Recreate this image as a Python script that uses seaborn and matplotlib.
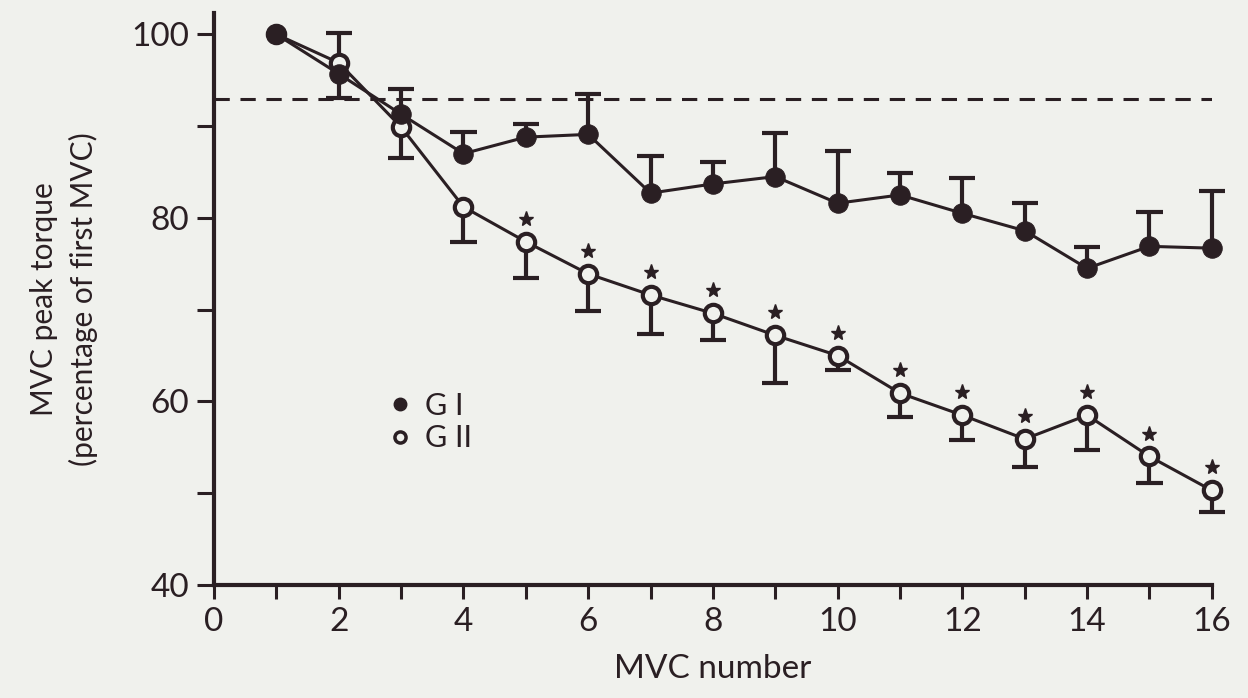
import numpy as np
import pandas as pd
import matplotlib
matplotlib.use("Agg")
import matplotlib.pyplot as plt
from matplotlib.lines import Line2D
from matplotlib.ticker import MultipleLocator
import seaborn as sns

# --- Data ---
mvc = [1, 2, 3, 4, 5, 6, 7, 8, 9, 10, 11, 12, 13, 14, 15, 16]
g1_mean = [100, 95.7, 91.3, 87.0, 88.8, 89.1, 82.7, 83.7, 84.5, 81.6, 82.5, 80.5, 78.6, 74.5, 76.9, 76.7]
g1_err_up = [0, 4.4, 2.7, 2.4, 1.4, 4.4, 4.0, 2.4, 4.7, 5.7, 2.4, 3.8, 3.0, 2.3, 3.7, 6.2]
g2_mean = [100, 96.9, 89.9, 81.2, 77.4, 73.9, 71.6, 69.6, 67.2, 65.0, 60.9, 58.5, 55.9, 58.5, 54.0, 50.3]
g2_err_down = [0, 3.8, 3.4, 3.8, 4.0, 4.0, 4.2, 2.9, 5.2, 1.6, 2.6, 2.7, 3.0, 3.8, 2.9, 2.4]
g2_significant = [False, False, False, False, True, True, True, True, True, True, True, True, True, True, True, True]
reference_level = 93.0

ink = "#2a1f23"
bg = "#f0f1ed"

sns.set_theme(style="ticks")
plt.rcParams["font.family"] = ["Lato", "DejaVu Sans"]

df = pd.DataFrame({
    "MVC": mvc * 2,
    "torque": g1_mean + g2_mean,
    "group": ["G I"] * len(mvc) + ["G II"] * len(mvc),
})

fig = plt.figure(figsize=(12.48, 6.98), dpi=100, facecolor=bg)
ax = fig.add_axes([0.1715, 0.162, 0.7995, 0.819])
ax.set_facecolor(bg)

# --- Reference dashed line ---
ax.axhline(reference_level, color=ink, lw=2.2, ls=(0, (5, 3.5)), zorder=1)

# --- One-sided error bars (G I upward, G II downward) ---
def one_sided(x, y, err, sign):
    x = np.asarray(x, float)
    y = np.asarray(y, float)
    err = np.asarray(err, float)
    keep = err > 0
    x, y, err = x[keep], y[keep], err[keep]
    end = y + sign * err
    ax.vlines(x, y, end, color=ink, lw=3, zorder=2, clip_on=False)
    ax.hlines(end, x - 0.21, x + 0.21, color=ink, lw=3, zorder=2, clip_on=False)

one_sided(mvc, g1_mean, g1_err_up, +1)
one_sided(mvc, g2_mean, g2_err_down, -1)

# --- Lines ---
sns.lineplot(data=df[df["group"] == "G I"], x="MVC", y="torque", ax=ax,
             color=ink, lw=2.2, marker="o", markersize=14,
             markerfacecolor=ink, markeredgecolor=ink, zorder=4, clip_on=False)
sns.lineplot(data=df[df["group"] == "G II"], x="MVC", y="torque", ax=ax,
             color=ink, lw=2.2, marker="o", markersize=12.5,
             markerfacecolor=bg, markeredgecolor=ink, markeredgewidth=3,
             zorder=3, clip_on=False)

# --- Significance stars ---
sig_x = [x for x, s in zip(mvc, g2_significant) if s]
sig_y = [y + 2.5 for y, s in zip(g2_mean, g2_significant) if s]
ax.plot(sig_x, sig_y, ls="none", marker="*", markersize=11, color=ink,
        zorder=5, clip_on=False)

# --- Axes ---
ax.set_xlim(0, 16)
ax.set_ylim(40, 102.3)
ax.xaxis.set_major_locator(MultipleLocator(2))
ax.xaxis.set_minor_locator(MultipleLocator(1))
ax.set_yticks([40, 60, 80, 100])
ax.yaxis.set_minor_locator(MultipleLocator(10))
ax.tick_params(axis="both", which="both", direction="out", color=ink,
               width=2.2, length=10, labelcolor=ink, labelsize=24, pad=6)
ax.tick_params(axis="y", which="both", length=12)
sns.despine(ax=ax)
for side in ["left", "bottom"]:
    ax.spines[side].set_color(ink)
    ax.spines[side].set_linewidth(3)

ax.set_xlabel("MVC number", fontsize=24, color=ink, labelpad=12)
ax.set_ylabel("MVC peak torque\n(percentage of first MVC)", fontsize=21.5,
              color=ink, labelpad=24, linespacing=1.45)

# --- Legend ---
handles = [
    Line2D([], [], ls="none", marker="o", markersize=9, markerfacecolor=ink, markeredgecolor=ink),
    Line2D([], [], ls="none", marker="o", markersize=8, markerfacecolor=bg, markeredgecolor=ink, markeredgewidth=2.5),
]
ax.legend(handles, ["G I", "G II"], loc="center left", bbox_to_anchor=(0.15, 0.285),
          frameon=False, fontsize=22, handlelength=0.6, handletextpad=0.5,
          labelspacing=0.15, labelcolor=ink)

fig.savefig("out.png", dpi=100, facecolor=bg)
